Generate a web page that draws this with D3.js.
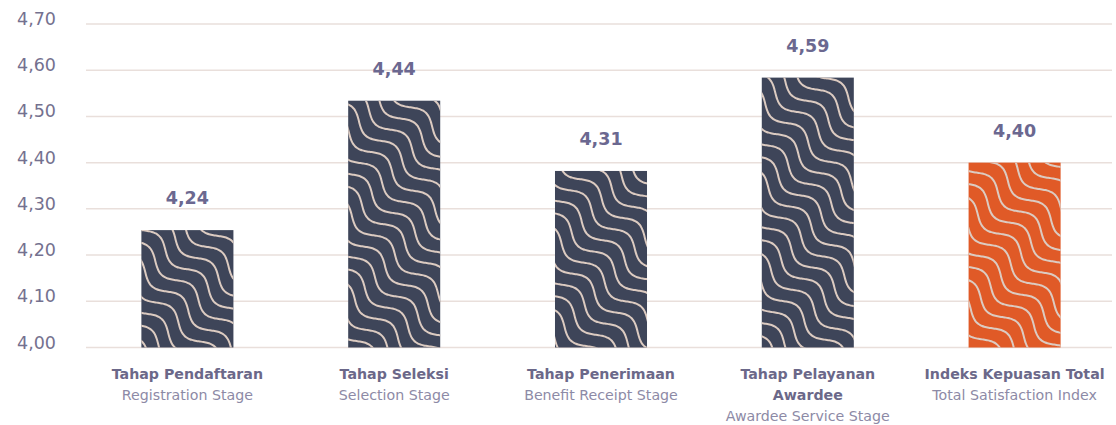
<!DOCTYPE html>
<html><head><meta charset="utf-8">
<script src="https://cdn.jsdelivr.net/npm/d3@7"></script>
<style>body{margin:0;background:#fff;}svg{display:block;}</style>
</head><body>
<svg id="c" width="1116" height="425"></svg>
<script>
const categoriesId = [["Tahap Pendaftaran"],["Tahap Seleksi"],["Tahap Penerimaan"],["Tahap Pelayanan","Awardee"],["Indeks Kepuasan Total"]];
const categoriesEn = ["Registration Stage","Selection Stage","Benefit Receipt Stage","Awardee Service Stage","Total Satisfaction Index"];
const barValues = [4.254, 4.534, 4.382, 4.584, 4.40];
const labelValues = ["4,24","4,44","4,31","4,59","4,40"];
const yTicks = [4.0,4.1,4.2,4.3,4.4,4.5,4.6,4.7];
const yTickLabels = ["4,00","4,10","4,20","4,30","4,40","4,50","4,60","4,70"];
const highlight = [false,false,false,false,true];

const svg = d3.select("#c");
const font = "'DejaVu Sans', sans-serif";
const y = d3.scaleLinear().domain([4.0,4.7]).range([347.5,24]);
const x = d3.scaleBand().domain(d3.range(5)).range([84,1118]).paddingInner(0.555).paddingOuter(0.2775);

// grid
svg.append("g").selectAll("line").data(yTicks).join("line")
  .attr("x1",86).attr("x2",1112).attr("y1",d=>y(d)).attr("y2",d=>y(d))
  .attr("stroke","#e9dfdb").attr("stroke-width",1.5);

// y tick labels
svg.append("g").selectAll("text").data(yTicks).join("text")
  .attr("x",17).attr("y",(d)=>y(d)+1).attr("font-family",font).attr("font-size",17.5)
  .attr("fill","#74718f").text((d,i)=>yTickLabels[i]);

// bars
svg.append("g").selectAll("rect").data(barValues).join("rect")
  .attr("x",(d,i)=>x(i)).attr("width",x.bandwidth())
  .attr("y",d=>y(d)).attr("height",d=>y(4.0)-y(d))
  .attr("fill",(d,i)=>highlight[i]?"#e05a27":"#3e4559");

// wave decoration clipped to bars
const clip = svg.append("defs").append("clipPath").attr("id","barClip");
clip.selectAll("rect").data(barValues).join("rect")
  .attr("x",(d,i)=>x(i)).attr("width",x.bandwidth())
  .attr("y",d=>y(d)).attr("height",d=>y(4.0)-y(d));
const L = 58, S = 15, A = 6.2;
const waveLine = d3.line().curve(d3.curveBasis);
const waves = svg.append("g").attr("clip-path","url(#barClip)")
  .append("g").attr("transform","rotate(42)");
for (let k=-55;k<=25;k++){
  const pts = d3.range(-60, 1200, 2).map(t => [t, k*S + A*Math.sin(2*Math.PI*t/L)]);
  waves.append("path").attr("d", waveLine(pts)).attr("fill","none")
    .attr("stroke","#dccbc1").attr("stroke-width",2);
}

// value labels
svg.append("g").selectAll("text").data(barValues).join("text")
  .attr("x",(d,i)=>x(i)+x.bandwidth()/2).attr("y",d=>y(d)-26)
  .attr("text-anchor","middle").attr("font-family",font).attr("font-weight","bold")
  .attr("font-size",17.5).attr("fill","#6b6890").text((d,i)=>labelValues[i]);

// category labels
const cg = svg.append("g");
categoriesId.forEach((lines,i)=>{
  const cx = x(i)+x.bandwidth()/2;
  lines.forEach((t,j)=>{
    cg.append("text").attr("x",cx).attr("y",379+j*21).attr("text-anchor","middle")
      .attr("font-family",font).attr("font-weight","bold").attr("font-size",14.2)
      .attr("fill","#6b6889").text(t);
  });
  cg.append("text").attr("x",cx).attr("y",379+lines.length*21).attr("text-anchor","middle")
    .attr("font-family",font).attr("font-size",14.2).attr("fill","#8d8aa6").text(categoriesEn[i]);
});
</script>
</body></html>
